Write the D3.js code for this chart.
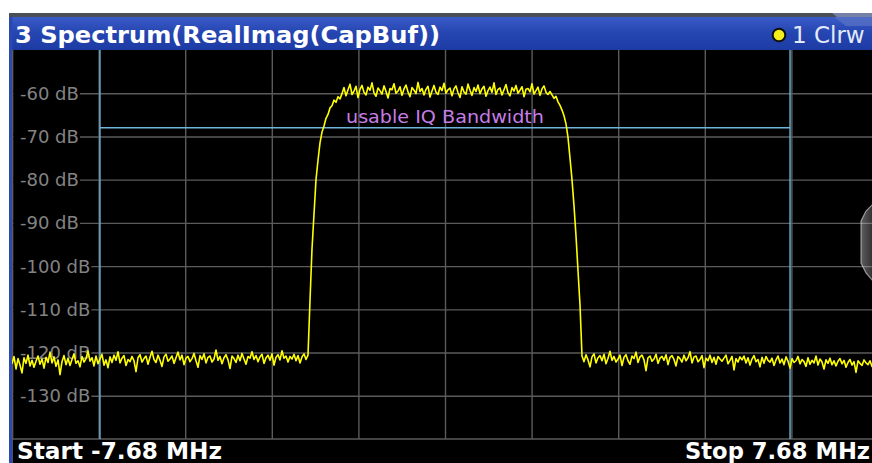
<!DOCTYPE html>
<html><head><meta charset="utf-8">
<script src="https://cdn.jsdelivr.net/npm/d3@7"></script>
<style>html,body{margin:0;padding:0;background:#fff;overflow:hidden}</style>
</head><body>
<svg id="c" width="872" height="463"></svg>
<script>
// ---------- data ----------
const title = "3 Spectrum(RealImag(CapBuf))";
const traceLabel = "1 Clrw";
const startLabel = "Start -7.68 MHz";
const stopLabel = "Stop 7.68 MHz";
const freqStart = -7.68, freqStop = 7.68;           // MHz
const levelTop = -50, levelBottom = -140;           // dB
const levelTicks = [-60, -70, -80, -90, -100, -110, -120, -130];
const levelTickLabels = ["-60 dB", "-70 dB", "-80 dB", "-90 dB", "-100 dB", "-110 dB", "-120 dB", "-130 dB"];
const markerFreqs = [-6.12, 6.12];
const thresholdLevel = -68;
const bandLabel = "usable IQ Bandwidth";

const floorLeft = [
-122.6,-120.9,-123.8,-121.4,-122.9,-124.7,-121.2,-122.5,-120.6,-123.1,
-121.8,-123.4,-122.0,-120.8,-122.7,-121.5,-123.6,-121.1,-122.3,-119.9,
-122.4,-121.0,-123.2,-121.7,-125.1,-122.1,-120.7,-122.8,-121.3,-123.0,
-121.6,-120.3,-122.5,-121.9,-123.3,-120.9,-122.2,-121.4,-119.6,-122.0,
-121.2,-123.1,-120.8,-122.6,-121.5,-120.4,-122.9,-121.7,-123.5,-121.0,
-122.3,-120.6,-121.8,-119.8,-122.4,-121.3,-120.7,-123.0,-121.6,-122.1,
-120.9,-121.9,-124.4,-121.2,-120.5,-122.2,-121.4,-120.8,-122.7,-121.1,
-119.7,-121.6,-122.3,-120.6,-121.8,-123.2,-121.0,-120.4,-122.0,-121.5,
-120.8,-122.5,-121.2,-119.9,-121.7,-120.6,-122.8,-121.3,-120.9,-122.1,
-121.4,-120.2,-121.9,-123.4,-120.7,-121.6,-120.3,-122.4,-121.1,-120.8,
-122.2,-121.5,-119.4,-121.8,-120.9,-122.6,-121.2,-120.5,-121.7,-123.7,
-120.8,-121.4,-122.3,-120.6,-121.9,-120.2,-121.5,-122.7,-120.9,-121.3,
-119.8,-121.6,-120.7,-122.1,-121.0,-120.4,-122.5,-121.2,-120.6,-121.8,
-120.3,-122.9,-121.1,-120.5,-121.7,-119.6,-121.3,-120.8,-122.2,-120.9,
-121.5,-120.4,-121.9,-120.7,-122.4,-121.0,-120.3,-121.6,-120.6
];
const riseLevels = [
-108,-96,-88,-80,-75.5,-71.5,-69,-67.6,-65.8,-64.9,-63.4,-62.9,-61.6,-62.1,-60.8,-61.3
];
const topLevels = [
-60.1,-58.7,-60.6,-59.2,-57.9,-60.3,-59.5,-58.4,-61.0,-59.1,
-58.2,-59.8,-60.4,-58.6,-59.3,-57.6,-59.9,-60.7,-58.8,-59.4,
-60.2,-58.3,-59.6,-61.1,-58.9,-59.2,-57.8,-60.0,-59.5,-58.5,
-60.5,-59.0,-58.1,-59.7,-60.8,-58.7,-59.3,-60.1,-57.5,-59.6,
-58.9,-60.4,-59.1,-58.4,-60.9,-59.5,-58.2,-59.8,-60.3,-58.6,
-59.4,-57.7,-60.0,-59.2,-58.8,-60.6,-59.0,-58.3,-59.9,-61.0,
-58.5,-59.7,-60.2,-57.9,-59.3,-60.5,-58.7,-59.6,-58.1,-60.1,
-59.0,-58.4,-60.7,-59.4,-58.6,-59.8,-57.6,-60.3,-59.1,-58.8,
-60.4,-59.2,-58.0,-59.9,-60.6,-58.7,-59.5,-58.2,-60.0,-59.3,
-58.5,-60.8,-59.1,-58.9,-59.7,-57.8,-60.2,-59.4,-58.6,-60.5,
-59.0,-58.3,-59.8,-60.3,-59.6
];
const fallLevels = [
-60.4,-61.2,-60.7,-62.0,-62.8,-63.9,-65.2,-67.1,-70.2,-75.0,-80,-86,-93,-101,-109
];
const floorRight = [
-120.8,-122.1,-120.5,-121.7,-123.3,-121.0,-120.3,-122.4,-121.2,-120.7,
-121.9,-120.4,-122.6,-121.3,-119.7,-121.8,-120.9,-122.2,-121.5,-120.6,
-123.0,-121.1,-120.5,-121.9,-122.7,-120.8,-121.4,-119.9,-122.3,-121.0,
-120.6,-121.7,-124.2,-121.2,-120.8,-122.0,-121.5,-120.4,-122.5,-121.3,
-120.9,-121.8,-120.5,-122.8,-121.1,-120.7,-121.6,-123.1,-120.9,-121.4,
-122.2,-120.6,-121.9,-121.2,-119.8,-122.4,-121.0,-120.8,-122.1,-121.6,
-120.7,-123.5,-121.3,-121.9,-120.6,-122.3,-121.1,-122.7,-120.9,-121.5,
-122.0,-121.3,-120.6,-122.6,-121.8,-120.9,-124.0,-121.4,-122.2,-121.0,
-121.7,-120.8,-122.4,-121.2,-122.9,-121.5,-120.7,-122.1,-121.6,-123.3,
-121.1,-122.5,-120.9,-121.8,-122.2,-121.3,-123.0,-121.7,-120.8,-122.4,
-121.5,-122.8,-121.0,-122.0,-123.6,-121.4,-122.3,-121.9,-120.9,-122.6,
-121.6,-122.1,-123.2,-121.2,-122.7,-121.8,-122.4,-120.8,-122.9,-121.5,
-122.2,-123.8,-121.7,-122.5,-121.3,-122.8,-121.9,-123.1,-122.0,-121.4,
-122.6,-121.8,-123.4,-122.3,-121.6,-122.9,-122.1,-124.6,-121.9,-122.5,
-123.0,-121.7,-122.4,-122.8,-121.9,-123.2,-122.3,-122.6,-121.8
];

// ---------- build ----------
const levels = floorLeft.concat(riseLevels, topLevels, fallLevels, floorRight);
const step = (freqStop - freqStart) / (levels.length - 1);
const trace = levels.map((v, i) => ({ f: freqStart + i * step, v }));

const svg = d3.select("#c");
const W = 872, H = 463;
const plot = { x0: 12, x1: 878, y0: 50, y1: 439 };

const x = d3.scaleLinear().domain([freqStart, freqStop]).range([plot.x0, plot.x1]);
const y = d3.scaleLinear().domain([levelBottom, levelTop]).range([plot.y1, plot.y0]);

const defs = svg.append("defs");
const hg = defs.append("linearGradient").attr("id", "hdr").attr("x1", 0).attr("y1", 0).attr("x2", 0).attr("y2", 1);
hg.append("stop").attr("offset", "0%").attr("stop-color", "#3a5cc8");
hg.append("stop").attr("offset", "45%").attr("stop-color", "#2646b2");
hg.append("stop").attr("offset", "100%").attr("stop-color", "#1d3ba4");
defs.append("clipPath").attr("id", "pc").append("rect")
  .attr("x", plot.x0).attr("y", plot.y0).attr("width", plot.x1 - plot.x0).attr("height", plot.y1 - plot.y0);
const sg = defs.append("linearGradient").attr("id", "sh").attr("x1", 0).attr("y1", 0).attr("x2", 1).attr("y2", 0);
sg.append("stop").attr("offset", "0%").attr("stop-color", "rgba(210,210,210,0.45)");
sg.append("stop").attr("offset", "100%").attr("stop-color", "rgba(140,140,140,0.35)");

// background
svg.append("rect").attr("width", W).attr("height", H).attr("fill", "#fff");
svg.append("rect").attr("x", 9).attr("y", 13).attr("width", W - 9).attr("height", 4).attr("fill", "#4a4e55");
svg.append("polygon").attr("points", "832,13 872,13 872,24 846,24").attr("fill", "#7f8fb9").attr("opacity", 0.8);
svg.append("rect").attr("x", 9).attr("y", 17).attr("width", W - 9).attr("height", 33).attr("fill", "url(#hdr)");
svg.append("polygon").attr("points", "834,17 872,17 872,26 846,26").attr("fill", "#5a74c4").attr("opacity", 0.7);
svg.append("rect").attr("x", 9).attr("y", 17).attr("width", 3.5).attr("height", H - 17).attr("fill", "#2a48b0");
svg.append("rect").attr("x", 12.5).attr("y", 50).attr("width", W - 12.5).attr("height", H - 50).attr("fill", "#000");

// header texts
svg.append("text").attr("x", 15).attr("y", 43)
  .attr("font-family", "DejaVu Sans").attr("font-weight", "bold").attr("font-size", 23)
  .attr("fill", "#fff").attr("textLength", 425).attr("lengthAdjust", "spacingAndGlyphs").text(title);
svg.append("circle").attr("cx", 779).attr("cy", 35).attr("r", 6.3)
  .attr("fill", "#f4ee1c").attr("stroke", "#111").attr("stroke-width", 2);
svg.append("text").attr("x", 792).attr("y", 43)
  .attr("font-family", "DejaVu Sans").attr("font-size", 23).attr("fill", "#e4eaf8").text(traceLabel);

// grid
const gp = svg.append("g").attr("clip-path", "url(#pc)");
const xGridVals = d3.range(11).map(k => freqStart + k * (freqStop - freqStart) / 10);
const xAxis = d3.axisBottom(x).tickValues(xGridVals).tickSize(-(plot.y1 - plot.y0)).tickFormat("");
const gx = gp.append("g").attr("transform", `translate(0,${plot.y1})`).call(xAxis);
const yAxis = d3.axisLeft(y).tickValues(levelTicks).tickSize(-(plot.x1 - plot.x0)).tickFormat("");
const gy = gp.append("g").attr("transform", `translate(${plot.x0},0)`).call(yAxis);
[gx, gy].forEach(g => {
  g.select(".domain").remove();
  g.selectAll(".tick line").attr("stroke", "#5b5b5b").attr("stroke-width", 1.4);
});
// border
svg.append("line").attr("x1", plot.x0 + 0.5).attr("x2", plot.x0 + 0.5).attr("y1", plot.y0).attr("y2", plot.y1)
  .attr("stroke", "#5b5b5b").attr("stroke-width", 1.4);
svg.append("line").attr("x1", plot.x0).attr("x2", W).attr("y1", plot.y1).attr("y2", plot.y1)
  .attr("stroke", "#5b5b5b").attr("stroke-width", 1.4);

// level labels with black backing
const lbl = svg.append("g");
levelTicks.forEach((v, i) => {
  const g = lbl.append("g");
  const bg = g.append("rect");
  const t = g.append("text").attr("x", 20).attr("y", y(v)).attr("dy", "0.36em")
    .attr("font-family", "DejaVu Sans").attr("font-size", 18).attr("fill", "#838383")
    .text(levelTickLabels[i]);
  const w = t.node().getComputedTextLength();
  bg.attr("x", plot.x0 + 1.5).attr("y", y(v) - 3).attr("width", 20 + w + 1 - plot.x0 - 1.5).attr("height", 6).attr("fill", "#000");
});

// markers
const mk = svg.append("g").attr("clip-path", "url(#pc)");
markerFreqs.forEach(f => {
  mk.append("line").attr("x1", x(f)).attr("x2", x(f)).attr("y1", plot.y0).attr("y2", plot.y1)
    .attr("stroke", "#6fb4dc").attr("stroke-width", 1.4);
});
mk.append("line").attr("x1", x(markerFreqs[0])).attr("x2", x(markerFreqs[1]))
  .attr("y1", y(thresholdLevel)).attr("y2", y(thresholdLevel))
  .attr("stroke", "#6fb4dc").attr("stroke-width", 1.4);
mk.append("text").attr("x", x(0)).attr("y", y(thresholdLevel) - 5).attr("text-anchor", "middle")
  .attr("font-family", "DejaVu Sans").attr("font-size", 17).attr("fill", "#c67ee6")
  .attr("textLength", 198).attr("lengthAdjust", "spacingAndGlyphs").text(bandLabel);

// trace
const line = d3.line().x(d => x(d.f)).y(d => y(d.v));
svg.append("g").attr("clip-path", "url(#pc)").append("path").datum(trace)
  .attr("d", line).attr("fill", "none").attr("stroke", "#ffff00").attr("stroke-width", 1.6)
  .attr("stroke-linejoin", "round");

// scroll handle
svg.append("polygon").attr("points", "873,204 866,211 861,221 861,263 866,273 873,281")
  .attr("fill", "url(#sh)").attr("stroke", "rgba(225,225,225,0.6)").attr("stroke-width", 1.2);

// bottom labels
svg.append("text").attr("x", 17).attr("y", 459)
  .attr("font-family", "DejaVu Sans").attr("font-weight", "bold").attr("font-size", 23)
  .attr("fill", "#fff").attr("textLength", 205).attr("lengthAdjust", "spacingAndGlyphs").text(startLabel);
svg.append("text").attr("x", 870).attr("y", 459).attr("text-anchor", "end")
  .attr("font-family", "DejaVu Sans").attr("font-weight", "bold").attr("font-size", 23)
  .attr("fill", "#fff").attr("textLength", 185).attr("lengthAdjust", "spacingAndGlyphs").text(stopLabel);
</script>
</body></html>
